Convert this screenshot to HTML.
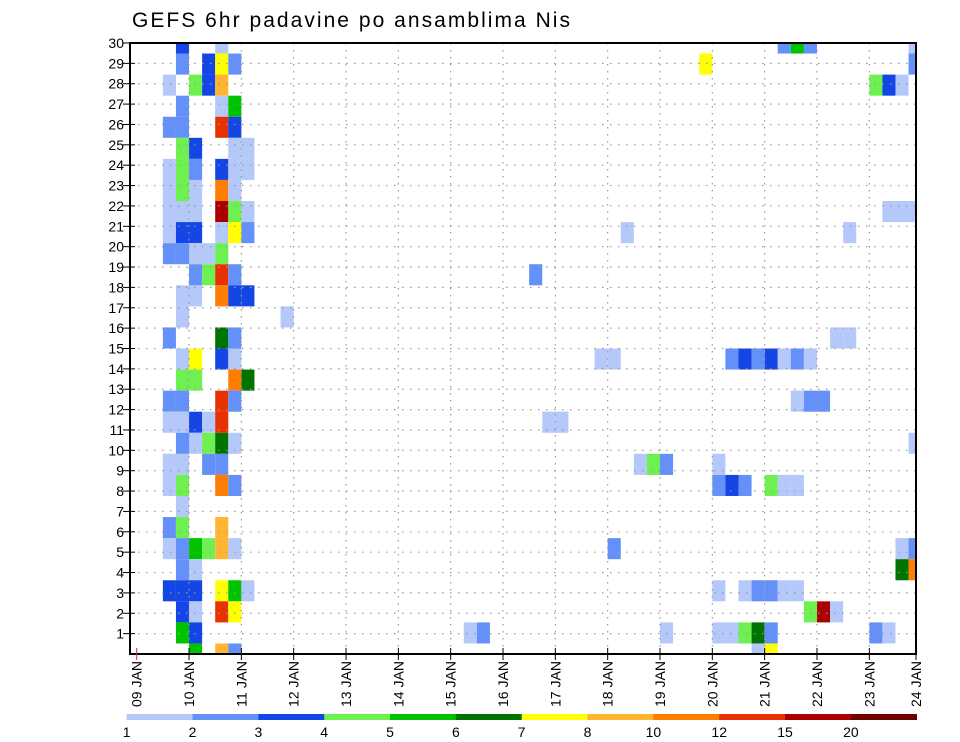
<!DOCTYPE html>
<html><head><meta charset="utf-8"><title>GEFS 6hr padavine po ansamblima Nis</title>
<style>html,body{margin:0;padding:0;background:#fff;width:960px;height:742px;overflow:hidden}svg{display:block;font-family:"Liberation Sans",sans-serif}</style>
</head><body>
<svg id="chart" width="960" height="742" viewBox="0 0 960 742" xmlns="http://www.w3.org/2000/svg">
<text x="132" y="27" font-size="21" textLength="438" lengthAdjust="spacing" fill="#000">GEFS 6hr padavine po ansamblima Nis</text>
<g id="cells"></g>
<g id="grid"></g>
<g id="axes"></g>
<g id="cbar"></g>
</svg>
<script>
// ---- data ----
const dayLabels = ["09 JAN","10 JAN","11 JAN","12 JAN","13 JAN","14 JAN","15 JAN","16 JAN","17 JAN","18 JAN","19 JAN","20 JAN","21 JAN","22 JAN","23 JAN","24 JAN"];
const memberTicks = [1,2,3,4,5,6,7,8,9,10,11,12,13,14,15,16,17,18,19,20,21,22,23,24,25,26,27,28,29,30];
const levels = [1,2,3,4,5,6,7,8,10,12,15,20];
const levelColors = ["#b4c8fa","#6490fa","#1446e6","#6ef050","#00c300","#007300","#ffff00","#ffb432","#ff7d00","#e63200","#aa0000","#6e0000"];
// cells: [6-hour step since 09 JAN 00Z, member row (1 = top), precip mm]
const cellData = [
[3,1,3.5],[6,1,1.5],[49,1,2.5],[50,1,5.5],[51,1,2.5],[59,1,1.5],
[3,2,2.5],[5,2,3.5],[6,2,7.5],[7,2,2.5],[43,2,7.5],[59,2,2.5],
[2,3,1.5],[4,3,4.5],[5,3,3.5],[6,3,9],[56,3,4.5],[57,3,3.5],[58,3,1.5],
[3,4,2.5],[6,4,1.5],[7,4,5.5],
[2,5,2.5],[3,5,2.5],[6,5,13],[7,5,3.5],
[3,6,4.5],[4,6,3.5],[7,6,1.5],[8,6,1.5],
[2,7,1.5],[3,7,4.5],[4,7,2.5],[6,7,3.5],[7,7,1.5],[8,7,1.5],
[2,8,1.5],[3,8,4.5],[4,8,1.5],[6,8,11],[7,8,1.5],
[2,9,1.5],[3,9,1.5],[4,9,1.5],[6,9,17],[7,9,4.5],[8,9,1.5],[57,9,1.5],[58,9,1.5],[59,9,1.5],
[2,10,1.5],[3,10,3.5],[4,10,3.5],[6,10,1.5],[7,10,7.5],[8,10,2.5],[37,10,1.5],[54,10,1.5],
[2,11,2.5],[3,11,2.5],[4,11,1.5],[5,11,1.5],[6,11,4.5],
[4,12,2.5],[5,12,4.5],[6,12,13],[7,12,2.5],[30,12,2.5],
[3,13,1.5],[4,13,1.5],[6,13,11],[7,13,3.5],[8,13,3.5],
[3,14,1.5],[11,14,1.5],
[2,15,2.5],[6,15,6.5],[7,15,2.5],[53,15,1.5],[54,15,1.5],
[3,16,1.5],[4,16,7.5],[6,16,3.5],[7,16,1.5],[35,16,1.5],[36,16,1.5],[45,16,2.5],[46,16,3.5],[47,16,2.5],[48,16,3.5],[49,16,1.5],[50,16,2.5],[51,16,1.5],
[3,17,4.5],[4,17,4.5],[7,17,11],[8,17,6.5],
[2,18,2.5],[3,18,2.5],[6,18,13],[7,18,2.5],[50,18,1.5],[51,18,2.5],[52,18,2.5],
[2,19,1.5],[3,19,1.5],[4,19,3.5],[5,19,1.5],[6,19,13],[31,19,1.5],[32,19,1.5],
[3,20,2.5],[4,20,1.5],[5,20,4.5],[6,20,6.5],[7,20,1.5],[59,20,1.5],
[2,21,1.5],[3,21,1.5],[5,21,2.5],[6,21,2.5],[38,21,1.5],[39,21,4.5],[40,21,2.5],[44,21,1.5],
[2,22,1.5],[3,22,4.5],[6,22,11],[7,22,2.5],[44,22,2.5],[45,22,3.5],[46,22,2.5],[48,22,4.5],[49,22,1.5],[50,22,1.5],
[3,23,1.5],
[2,24,2.5],[3,24,4.5],[6,24,9],
[2,25,1.5],[3,25,2.5],[4,25,5.5],[5,25,4.5],[6,25,9],[7,25,1.5],[36,25,2.5],[58,25,1.5],[59,25,2.5],
[3,26,2.5],[4,26,1.5],[58,26,6.5],[59,26,11],
[2,27,3.5],[3,27,3.5],[4,27,3.5],[6,27,7.5],[7,27,5.5],[8,27,1.5],[44,27,1.5],[46,27,1.5],[47,27,2.5],[48,27,2.5],[49,27,1.5],[50,27,1.5],
[3,28,3.5],[4,28,1.5],[6,28,13],[7,28,7.5],[51,28,4.5],[52,28,17],[53,28,1.5],
[3,29,5.5],[4,29,3.5],[25,29,1.5],[26,29,2.5],[40,29,1.5],[44,29,1.5],[45,29,1.5],[46,29,4.5],[47,29,6.5],[48,29,2.5],[56,29,2.5],[57,29,1.5],
[4,30,5.5],[6,30,9],[7,30,2.5],[47,30,1.5],[48,30,7.5]
];

// ---- geometry ----
const NS = "http://www.w3.org/2000/svg";
const PL = 130, PR = 916, PT = 43, PB = 654;
const X0 = 136.7, DAY = 52.33;
function xDay(d){ return X0 + d*DAY; }
function xStep(s){ return xDay(s/4); }
const ROWH = (PB-PT)/29;
function yRow(r){ return PT + (r-1)*ROWH; }
function yTick(m){ return PB - m*(PB-PT)/30; }
function colorFor(v){ let k=0; for(let i=0;i<levels.length;i++){ if(v>=levels[i]) k=i; } return levelColors[k]; }
function mk(tag, attrs, parent){ const e=document.createElementNS(NS,tag); for(const a in attrs) e.setAttribute(a, attrs[a]); parent.appendChild(e); return e; }

const gCells = document.getElementById('cells');
const gGrid = document.getElementById('grid');
const gAx = document.getElementById('axes');
const gCb = document.getElementById('cbar');

cellData.forEach(function(c){
  let x1 = xStep(c[0]), x2 = xStep(c[0]+1);
  let y1 = yRow(c[1]) - ROWH/2, y2 = yRow(c[1]) + ROWH/2;
  x1 = Math.max(x1, PL); x2 = Math.min(x2, PR);
  y1 = Math.max(y1, PT); y2 = Math.min(y2, PB);
  const r = mk('rect', {x:x1, y:y1, width:x2-x1, height:y2-y1, fill:colorFor(c[2])}, gCells);
  
  
});

memberTicks.forEach(function(m){
  if (m >= 30) return;
  const y = yTick(m);
  const l = mk('line', {x1:PL, x2:PR, y1:y, y2:y, stroke:'#999', 'stroke-width':1.2, 'stroke-dasharray':'1.5 6.5'}, gGrid);
  
  
});
dayLabels.forEach(function(lbl, d){
  if (d === 0 || d === dayLabels.length-1) return;
  const x = xDay(d);
  const l = mk('line', {x1:x, x2:x, y1:PT, y2:PB, stroke:'#999', 'stroke-width':1.2, 'stroke-dasharray':'1.5 5.5'}, gGrid);
  
  
});

const fr = mk('rect', {x:PL, y:PT, width:PR-PL, height:PB-PT, fill:'none', stroke:'#000', 'stroke-width':2}, gAx);



memberTicks.forEach(function(m){
  const y = yTick(m);
  const t = mk('line', {x1:PL-7, x2:PL+5, y1:y, y2:y, stroke:'#000', 'stroke-width':1}, gAx);
  
  
  const tx = mk('text', {x:PL-6, y:y+5, 'font-size':14, 'text-anchor':'end', fill:'#000'}, gAx);
  tx.textContent = String(m);
  
  
});

dayLabels.forEach(function(lbl, d){
  const x = Math.min(xDay(d), PR);
  const t = mk('line', {x1:x, x2:x, y1:PB-6, y2:PB+6, stroke:(d===0?'#c33':'#000'), 'stroke-width':1}, gAx);
  
  
  const tx = mk('text', {x:0, y:0, 'font-size':14, 'text-anchor':'end', fill:'#000', textLength:46, lengthAdjust:'spacingAndGlyphs', transform:'translate('+(x+5)+',661) rotate(-90)'}, gAx);
  tx.textContent = lbl;
  
  
});

const CB0 = 126.7, CB1 = 916.7, CBW = (CB1-CB0)/levels.length;
levels.forEach(function(lv, i){
  const r = mk('rect', {x:CB0+i*CBW, y:714, width:CBW+0.3, height:6, fill:levelColors[i]}, gCb);
  
  
  const tx = mk('text', {x:CB0+i*CBW, y:737, 'font-size':14, 'text-anchor':'middle', fill:'#000'}, gCb);
  tx.textContent = String(lv);
  
  
});
</script>
</body></html>
